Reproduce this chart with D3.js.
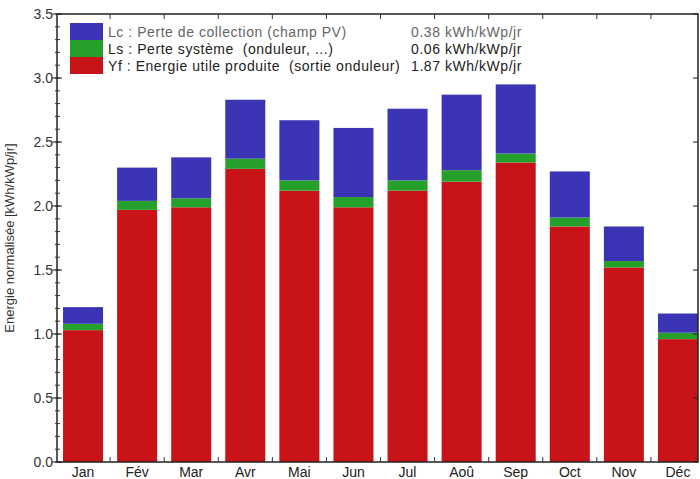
<!DOCTYPE html>
<html>
<head>
<meta charset="utf-8">
<script src="https://cdn.jsdelivr.net/npm/d3@7"></script>
<style>
  body { margin: 0; background: #fff; }
  svg { display: block; font-family: "Liberation Sans", Arial, sans-serif; }
  text { white-space: pre; }
</style>
</head>
<body>
<div id="chart"></div>
<script>
// --- Data (kWh/kWp/jour) ---
const months = ["Jan", "Fév", "Mar", "Avr", "Mai", "Jun", "Jul", "Aoû", "Sep", "Oct", "Nov", "Déc"];
const yf = [1.03, 1.97, 1.99, 2.29, 2.12, 1.99, 2.12, 2.19, 2.34, 1.84, 1.52, 0.96];   // énergie utile
const ls = [0.05, 0.07, 0.07, 0.08, 0.08, 0.08, 0.08, 0.09, 0.07, 0.07, 0.05, 0.05];   // perte système
const lc = [0.13, 0.26, 0.32, 0.46, 0.47, 0.54, 0.56, 0.59, 0.54, 0.36, 0.27, 0.15];   // perte collection
const yTicks = [0, 0.5, 1.0, 1.5, 2.0, 2.5, 3.0, 3.5];
const legendItems = [
  { key: "lc", label: "Lc : Perte de collection (champ PV)", value: "0.38 kWh/kWp/jr", color: "#3b35b5", text: "#666" },
  { key: "ls", label: "Ls : Perte système  (onduleur, ...)", value: "0.06 kWh/kWp/jr", color: "#25a02a", text: "#222" },
  { key: "yf", label: "Yf : Energie utile produite  (sortie onduleur)", value: "1.87 kWh/kWp/jr", color: "#c81418", text: "#222" }
];

const W = 700, H = 479;
const pl = 57, pr = 698, pt = 14, pb = 462;

const svg = d3.select("#chart").append("svg")
  .attr("width", W).attr("height", H);

// --- Scales ---
const x = d3.scaleBand()
  .domain(months)
  .range([56, 705])
  .paddingInner(0.26)
  .paddingOuter(0.13);

const y = d3.scaleLinear()
  .domain([0, 3.5])
  .range([pb, pt]);

// --- Stack ---
const rows = months.map((m, i) => ({ month: m, yf: yf[i], ls: ls[i], lc: lc[i] }));
const stack = d3.stack().keys(["yf", "ls", "lc"])(rows);
const colors = { yf: "#c81418", ls: "#25a02a", lc: "#3b35b5" };

svg.append("g")
  .selectAll("g")
  .data(stack)
  .join("g")
  .attr("fill", d => colors[d.key])
  .selectAll("rect")
  .data(d => d)
  .join("rect")
  .attr("x", d => x(d.data.month))
  .attr("width", x.bandwidth())
  .attr("y", d => y(d[1]))
  .attr("height", d => y(d[0]) - y(d[1]));

// --- Frame ---
svg.append("rect")
  .attr("x", pl).attr("y", pt)
  .attr("width", pr - pl).attr("height", pb - pt)
  .attr("fill", "none").attr("stroke", "#222").attr("stroke-width", 1.5);

// --- Y ticks (major + minor) ---
const minor = d3.range(0, 3.51, 0.1);
svg.append("g").selectAll("line")
  .data(minor)
  .join("line")
  .attr("x1", pl - 2).attr("x2", pl + 3)
  .attr("y1", d => y(d)).attr("y2", d => y(d))
  .attr("stroke", "#333");
svg.append("g").selectAll("line")
  .data(yTicks)
  .join("line")
  .attr("x1", pl - 5).attr("x2", pl + 5)
  .attr("y1", d => y(d)).attr("y2", d => y(d))
  .attr("stroke", "#222");
svg.append("g").selectAll("line")
  .data(yTicks)
  .join("line")
  .attr("x1", pr - 5).attr("x2", pr)
  .attr("y1", d => y(d)).attr("y2", d => y(d))
  .attr("stroke", "#222");

svg.append("g").selectAll("text")
  .data(yTicks)
  .join("text")
  .attr("x", pl - 4)
  .attr("y", d => y(d) + 5)
  .attr("text-anchor", "end")
  .attr("font-size", 14)
  .attr("fill", "#333")
  .text(d => d.toFixed(1));

// --- X ticks at band boundaries ---
const bounds = months.slice(1).map(m => x(m) - x.step() * x.paddingInner() / 2);
svg.append("g").selectAll("line")
  .data(bounds)
  .join("line")
  .attr("x1", d => d).attr("x2", d => d)
  .attr("y1", pb).attr("y2", pb - 5)
  .attr("stroke", "#333");
svg.append("g").selectAll("line")
  .data(bounds)
  .join("line")
  .attr("x1", d => d).attr("x2", d => d)
  .attr("y1", pt).attr("y2", pt + 5)
  .attr("stroke", "#333");

svg.append("g").selectAll("text")
  .data(months)
  .join("text")
  .attr("x", d => x(d) + x.bandwidth() / 2)
  .attr("y", 477)
  .attr("text-anchor", "middle")
  .attr("font-size", 14)
  .attr("fill", "#222")
  .text(d => d);

// --- Y axis title ---
svg.append("text")
  .attr("transform", "translate(14,238) rotate(-90)")
  .attr("text-anchor", "middle")
  .attr("font-size", 13)
  .attr("fill", "#333")
  .text("Energie normalisée [kWh/kWp/jr]");

// --- Legend ---
const lg = svg.append("g").attr("transform", "translate(70,23)");
legendItems.forEach((d, i) => {
  lg.append("rect")
    .attr("x", 0).attr("y", i * 17)
    .attr("width", 33).attr("height", 17)
    .attr("fill", d.color);
  lg.append("text")
    .attr("x", 38).attr("y", i * 17 + 14)
    .attr("font-size", 14)
    .attr("letter-spacing", 0.55)
    .attr("fill", d.text)
    .text(d.label);
  lg.append("text")
    .attr("x", 452).attr("y", i * 17 + 14)
    .attr("text-anchor", "end")
    .attr("font-size", 14)
    .attr("letter-spacing", 0.55)
    .attr("fill", d.text)
    .text(d.value);
});
</script>
</body>
</html>
